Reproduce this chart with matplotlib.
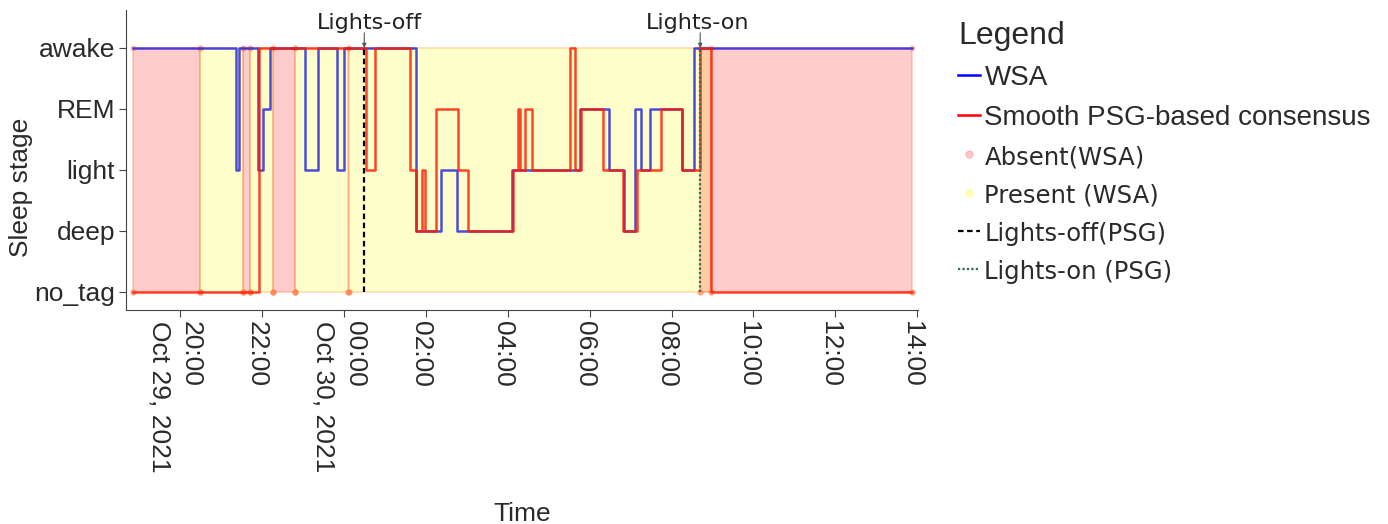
"""
Hypnogram: WSA vs smooth PSG-based consensus
"""
import datetime as dt
import matplotlib
matplotlib.use("Agg")
import matplotlib.pyplot as plt
import matplotlib.dates as mdates
import matplotlib.transforms as mtransforms
from matplotlib.lines import Line2D
from matplotlib.ticker import FuncFormatter

# DATA
STAGES = ["no_tag", "deep", "light", "REM", "awake"]

WSA_TIMES = ["18:51", "21:22", "21:27", "21:54", "22:02", "22:12", "23:03", "23:22",
             "23:50", "00:01", "01:46", "02:22", "02:46", "04:07", "05:46", "06:28",
             "06:51", "07:06", "07:15", "07:29", "08:16", "08:33", "13:52"]
WSA_STAGES = ["awake", "light", "awake", "light", "REM", "awake", "light", "awake",
              "light", "awake", "deep", "light", "deep", "light", "REM", "light",
              "deep", "REM", "light", "REM", "light", "awake", "awake"]

PSG_TIMES = ["18:51", "21:56", "00:33", "00:45", "01:37", "01:46", "01:54", "01:59",
             "02:15", "02:47", "03:02", "04:08", "04:15", "04:18", "04:26", "04:35",
             "05:32", "05:38", "05:47", "06:20", "06:49", "07:09", "07:45", "08:16",
             "08:41", "08:58", "13:52"]
PSG_STAGES = ["no_tag", "awake", "light", "awake", "light", "deep", "light", "deep",
              "REM", "light", "deep", "light", "REM", "light", "REM", "light",
              "awake", "light", "REM", "light", "deep", "light", "REM", "light",
              "awake", "no_tag", "no_tag"]

ABSENT_START = ["18:51", "21:33", "22:16", "00:06", "08:42"]
ABSENT_END = ["20:30", "21:42", "22:48", "00:07", "13:52"]
PRESENT_START = ["20:30", "21:42", "22:48"]
PRESENT_END = ["21:33", "22:16", "08:58"]

LIGHTS_OFF = "00:30"
LIGHTS_ON = "08:42"


def to_time(hhmm):
    t = dt.datetime.strptime("2021-10-29 " + hhmm, "%Y-%m-%d %H:%M")
    if t.hour < 15:
        t += dt.timedelta(days=1)
    return t


def stage_idx(names):
    return [STAGES.index(s) for s in names]


# PLOT
W, H = 1388, 524
fig = plt.figure(figsize=(W / 100, H / 100), dpi=100)
ax = fig.add_axes([126 / W, 1 - 310 / H, (918 - 126) / W, 300 / H])

TOP = STAGES.index("awake")

for s, e in zip(PRESENT_START, PRESENT_END):
    ax.fill_between([to_time(s), to_time(e)], 0, TOP, facecolor=(1, 1, 0, 0.2),
                    edgecolor=(1, 0.6, 0.25, 0.35), lw=1.2, zorder=1)
for s, e in zip(ABSENT_START, ABSENT_END):
    ax.fill_between([to_time(s), to_time(e)], 0, TOP, facecolor=(1, 0, 0, 0.2),
                    edgecolor=(1, 0.45, 0.3, 0.35), lw=1.2, zorder=1)

bounds = [to_time(t) for t in ABSENT_START + ABSENT_END + PRESENT_START + PRESENT_END]
ax.plot(bounds, [0] * len(bounds), "o", ms=3.5, color=(1, 0.5, 0.3, 0.6), zorder=2)
ax.plot(bounds, [TOP] * len(bounds), "o", ms=3.5, color=(1, 0.5, 0.3, 0.3), zorder=2)

ax.step([to_time(t) for t in WSA_TIMES], stage_idx(WSA_STAGES), where="post",
        color="#1010e0", alpha=0.75, lw=1.8, zorder=3)
ax.step([to_time(t) for t in PSG_TIMES], stage_idx(PSG_STAGES), where="post",
        color="#ff1a00", alpha=0.82, lw=1.8, zorder=4)

t_off, t_on = to_time(LIGHTS_OFF), to_time(LIGHTS_ON)
ax.plot([t_off, t_off], [0, TOP], color="black", lw=1.6, ls=(0, (2.5, 1.6)), zorder=5)
ax.plot([t_on, t_on], [0, TOP], color="#2f6e55", lw=1.6, ls=(0, (1, 1)), zorder=5)

for t, label, dx in [(t_off, "Lights-off", 5), (t_on, "Lights-on", -3)]:
    ax.annotate("", xy=(t, TOP), xytext=(0, 15), textcoords="offset pixels",
                arrowprops=dict(arrowstyle="-|>", color="#555555", lw=0.8,
                                mutation_scale=6, shrinkA=0, shrinkB=0))
    ax.annotate(label, xy=(t, TOP), xytext=(dx, 25), textcoords="offset pixels",
                ha="center", va="center", fontsize=16, family="DejaVu Sans",
                color="#222222", annotation_clip=False)

# axes
ax.set_xlim(to_time("18:41"), to_time("14:01"))
ax.set_ylim(-0.295, 4.62)
ax.set_yticks(range(len(STAGES)))
ax.set_yticklabels(STAGES)

ax.xaxis.set_major_locator(mdates.HourLocator(byhour=range(0, 24, 2)))


def fmt(x, pos):
    d = mdates.num2date(x)
    s = d.strftime("%H:%M")
    if pos == 0 or d.hour == 0:
        s += f"\n{d:%b} {d.day}, {d.year}"
    return s


ax.xaxis.set_major_formatter(FuncFormatter(fmt))

for side in ["top", "right"]:
    ax.spines[side].set_visible(False)
for side in ["left", "bottom"]:
    ax.spines[side].set_color("#444444")
ax.tick_params(axis="both", direction="out", length=5, color="#444444",
               labelsize=19, labelcolor="#2a2a2a", pad=3)

fig.canvas.draw()
shift = mtransforms.ScaledTranslation(-5 / 100, 0, fig.dpi_scale_trans)
for lab in ax.get_xticklabels():
    lab.set_rotation(-90)
    lab.set_multialignment("left")
    lab.set_linespacing(1.4)
    lab.set_transform(lab.get_transform() + shift)
for lab in ax.get_xticklabels() + ax.get_yticklabels():
    lab.set_family("Liberation Sans")

ax.set_xlabel("Time", fontsize=19, family="Liberation Sans", color="#2a2a2a")
ax.set_ylabel("Sleep stage", fontsize=19, family="Liberation Sans", color="#2a2a2a")
ax.xaxis.set_label_coords(0.5, -0.64)
ax.yaxis.set_label_coords(-0.118, 0.41)

# legend
handles = [
    Line2D([], [], color="blue", lw=1.8),
    Line2D([], [], color="red", lw=1.8),
    Line2D([], [], ls="", marker="o", ms=5, color=(1, 0, 0, 0.2)),
    Line2D([], [], ls="", marker="o", ms=5, color=(1, 1, 0, 0.25)),
    Line2D([], [], color="black", lw=1.6, ls=(0, (2.5, 1.6))),
    Line2D([], [], color="#2f6e55", lw=1.6, ls=(0, (1, 1))),
]
labels = ["WSA", "Smooth PSG-based consensus", "Absent(WSA)", "Present (WSA)",
          "Lights-off(PSG)", "Lights-on (PSG)"]
leg = fig.legend(handles, labels, loc="upper left", bbox_to_anchor=(958 / W, 1 - 21 / H),
                 frameon=False, title="Legend", title_fontsize=23, alignment="left",
                 prop={"family": "Liberation Sans", "size": 20}, handlelength=0.8,
                 handletextpad=0.15, labelspacing=0.5, borderpad=0, borderaxespad=0)
leg.get_title().set_family("Liberation Sans")
leg.get_title().set_color("#2a2a2a")
for txt in leg.get_texts()[2:]:
    txt.set_family("DejaVu Sans")
    txt.set_fontsize(17.5)
for txt in leg.get_texts():
    txt.set_color("#2a2a2a")

fig.savefig("out.png", dpi=100)
